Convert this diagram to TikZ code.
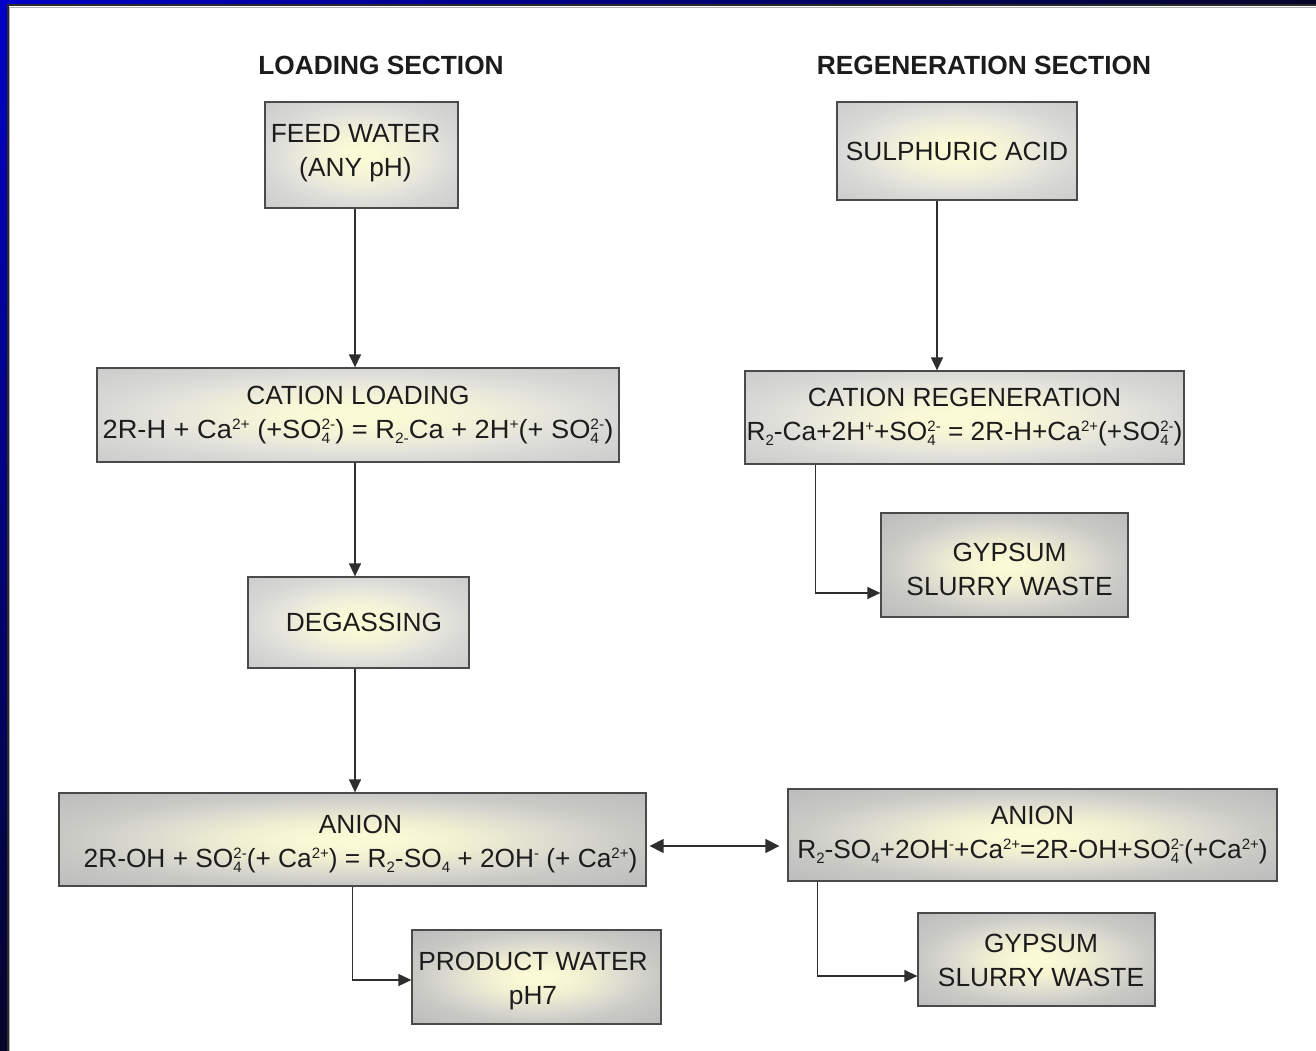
\documentclass[tikz,border=0pt]{standalone}
\usepackage{fontspec}
\usepackage{graphicx}
\setmainfont{Liberation Sans}
\usetikzlibrary{arrows.meta,calc}
\definecolor{cyel}{HTML}{FBFAD6}
\definecolor{cyel2}{HTML}{F3F2D8}
\definecolor{cmidL}{HTML}{E2E2DC}
\definecolor{csideL}{HTML}{D8D8D5}
\definecolor{ccornL}{HTML}{CBCBCB}
\definecolor{cyel2D}{HTML}{F1EFD1}
\definecolor{cmidD}{HTML}{D7D7CF}
\definecolor{csideD}{HTML}{C8C8C4}
\definecolor{ccornD}{HTML}{BBBBBB}
\definecolor{boxline}{HTML}{4A4A4A}
\definecolor{txt}{HTML}{1C1C1C}
\definecolor{lnk}{HTML}{2E2E2E}
\definecolor{frblue}{HTML}{0000C8}
\definecolor{frnavy}{HTML}{05052A}
\definecolor{frdark}{HTML}{2A2A2A}
\pgfdeclareradialshading{boxshadeL}{\pgfpoint{0bp}{0bp}}{color(0bp)=(cyel); color(4bp)=(cyel); color(11bp)=(cyel2); color(20bp)=(cmidL); color(25bp)=(csideL); color(36bp)=(ccornL); color(50bp)=(ccornL)}
\pgfdeclareradialshading{boxshadeD}{\pgfpoint{0bp}{0bp}}{color(0bp)=(cyel); color(3bp)=(cyel); color(10bp)=(cyel2D); color(19bp)=(cmidD); color(25bp)=(csideD); color(36bp)=(ccornD); color(50bp)=(ccornD)}
\newcommand\hsup[1]{\raisebox{9pt}{\fontsize{15}{15}\selectfont #1}}
\newcommand\hsub[1]{\raisebox{-5pt}{\fontsize{15}{15}\selectfont #1}}
\newcommand\hsbsp[2]{\rlap{\hsub{#1}}\hsup{#2}}
\newcommand\vmove[2]{\raisebox{#1}[\height][\depth]{\begin{tabular}{@{}c@{}}#2\end{tabular}}}
\tikzset{
  boxL/.style={draw=boxline, line width=1.3pt, shading=boxshadeL, inner sep=0pt, align=center, text=txt, font=\fontsize{26.3}{34}\selectfont},
  boxD/.style={boxL, shading=boxshadeD},
  ttl/.style={text=txt, inner sep=0pt, font=\fontsize{26.3}{30}\selectfont\bfseries},
  arr/.style={draw=lnk, line width=1.4pt, -{Triangle[length=13pt,width=12pt]}},
  darr/.style={draw=lnk, line width=1.4pt, {Triangle[length=14pt,width=14pt]}-{Triangle[length=14pt,width=14pt]}}
}
\begin{document}
\begin{tikzpicture}[x=1pt,y=-1pt]
\useasboundingbox (0,0) rectangle (1316,1051);
% frame
\fill[white] (0,0) rectangle (1316,1051);
\shade[top color=frblue, bottom color=frnavy] (0,0) rectangle (7,1051);
\shade[left color=frblue, right color=frnavy] (0,0) rectangle (1316,4.5);
\draw[frdark, line width=2pt] (7.5,1051) -- (7.5,5.5) -- (1316,5.5);
\draw[gray!60, line width=0.8pt] (9,1051) -- (9,7) -- (1316,7);
% titles
\node[ttl] (t1) at (381,65) {LOADING SECTION};
\node[ttl] (t2) at (984,65) {REGENERATION SECTION};
% boxes
\node[boxL, minimum width=193pt, minimum height=106pt] (feed) at (361.5,155) {\vmove{2pt}{FEED WATER\hspace*{12pt}\\(ANY pH)\hspace*{12pt}}};
\node[boxL, minimum width=240pt, minimum height=98pt] (acid) at (957,151) {SULPHURIC ACID};
\node[boxL, minimum width=522pt, minimum height=94pt] (cl) at (358,415) {CATION LOADING\\\scalebox{1.035}[1]{2R-H + Ca\hsup{2+} (+SO\hsbsp{4}{2-}) = R\hsub{2-}Ca + 2H\hsup{+}(+ SO\hsbsp{4}{2-})}};
\node[boxL, minimum width=439pt, minimum height=93pt] (cr) at (964.5,417.5) {CATION REGENERATION\\R\hsub{2}-Ca+2H\hsup{+}+SO\hsbsp{4}{2-} = 2R-H+Ca\hsup{2+}(+SO\hsbsp{4}{2-})};
\node[boxD, minimum width=247pt, minimum height=104pt] (gyp1) at (1004.5,565) {\vmove{-7pt}{GYPSUM\hspace*{-10pt}\\SLURRY WASTE\hspace*{-10pt}}};
\node[boxL, minimum width=221pt, minimum height=91pt] (deg) at (358.5,622.5) {\hspace*{11pt}DEGASSING};
\node[boxD, minimum width=587pt, minimum height=93pt] (anl) at (352.5,839.5) {\vmove{-4pt}{\hspace*{16pt}ANION\\\hspace*{16pt}2R-OH + SO\hsbsp{4}{2-}(+ Ca\hsup{2+}) = R\hsub{2}-SO\hsub{4} + 2OH\hsup{-} (+ Ca\hsup{2+})}};
\node[boxD, minimum width=489pt, minimum height=92pt] (anr) at (1032.5,835) {ANION\\R\hsub{2}-SO\hsub{4}+2OH\hsup{-}+Ca\hsup{2+}=2R-OH+SO\hsbsp{4}{2-}(+Ca\hsup{2+})};
\node[boxD, minimum width=249pt, minimum height=94pt] (prod) at (536.5,977) {\vmove{-4pt}{PRODUCT WATER\hspace*{7pt}\\pH7\hspace*{7pt}}};
\node[boxD, minimum width=237pt, minimum height=93pt] (gyp2) at (1036.5,959.5) {\vmove{-3.5pt}{\hspace*{9pt}GYPSUM\\\hspace*{9pt}SLURRY WASTE}};
% connectors
\draw[arr] ([xshift=-6.5pt]feed.south) -- ([xshift=-6.5pt]feed.south |- cl.north);
\draw[arr] ([xshift=-20pt]acid.south) -- ([xshift=-20pt]acid.south |- cr.north);
\draw[arr] ([xshift=-3pt]cl.south) -- ([xshift=-3pt]cl.south |- deg.north);
\draw[arr] ([xshift=-3.5pt]deg.south) -- ([xshift=-3.5pt]deg.south |- anl.north);
\draw[arr] ([xshift=71pt]cr.south west) |- ([yshift=-28pt]gyp1.west);
\draw[arr] (anl.south) |- ([yshift=-3pt]prod.west);
\draw[arr] ([xshift=30pt]anr.south west) |- ([yshift=-16.5pt]gyp2.west);
\draw[darr, shorten <=3pt, shorten >=8pt] ([yshift=-6.5pt]anl.east) -- ([yshift=-6.5pt]anl.east -| anr.west);
\end{tikzpicture}
\end{document}
